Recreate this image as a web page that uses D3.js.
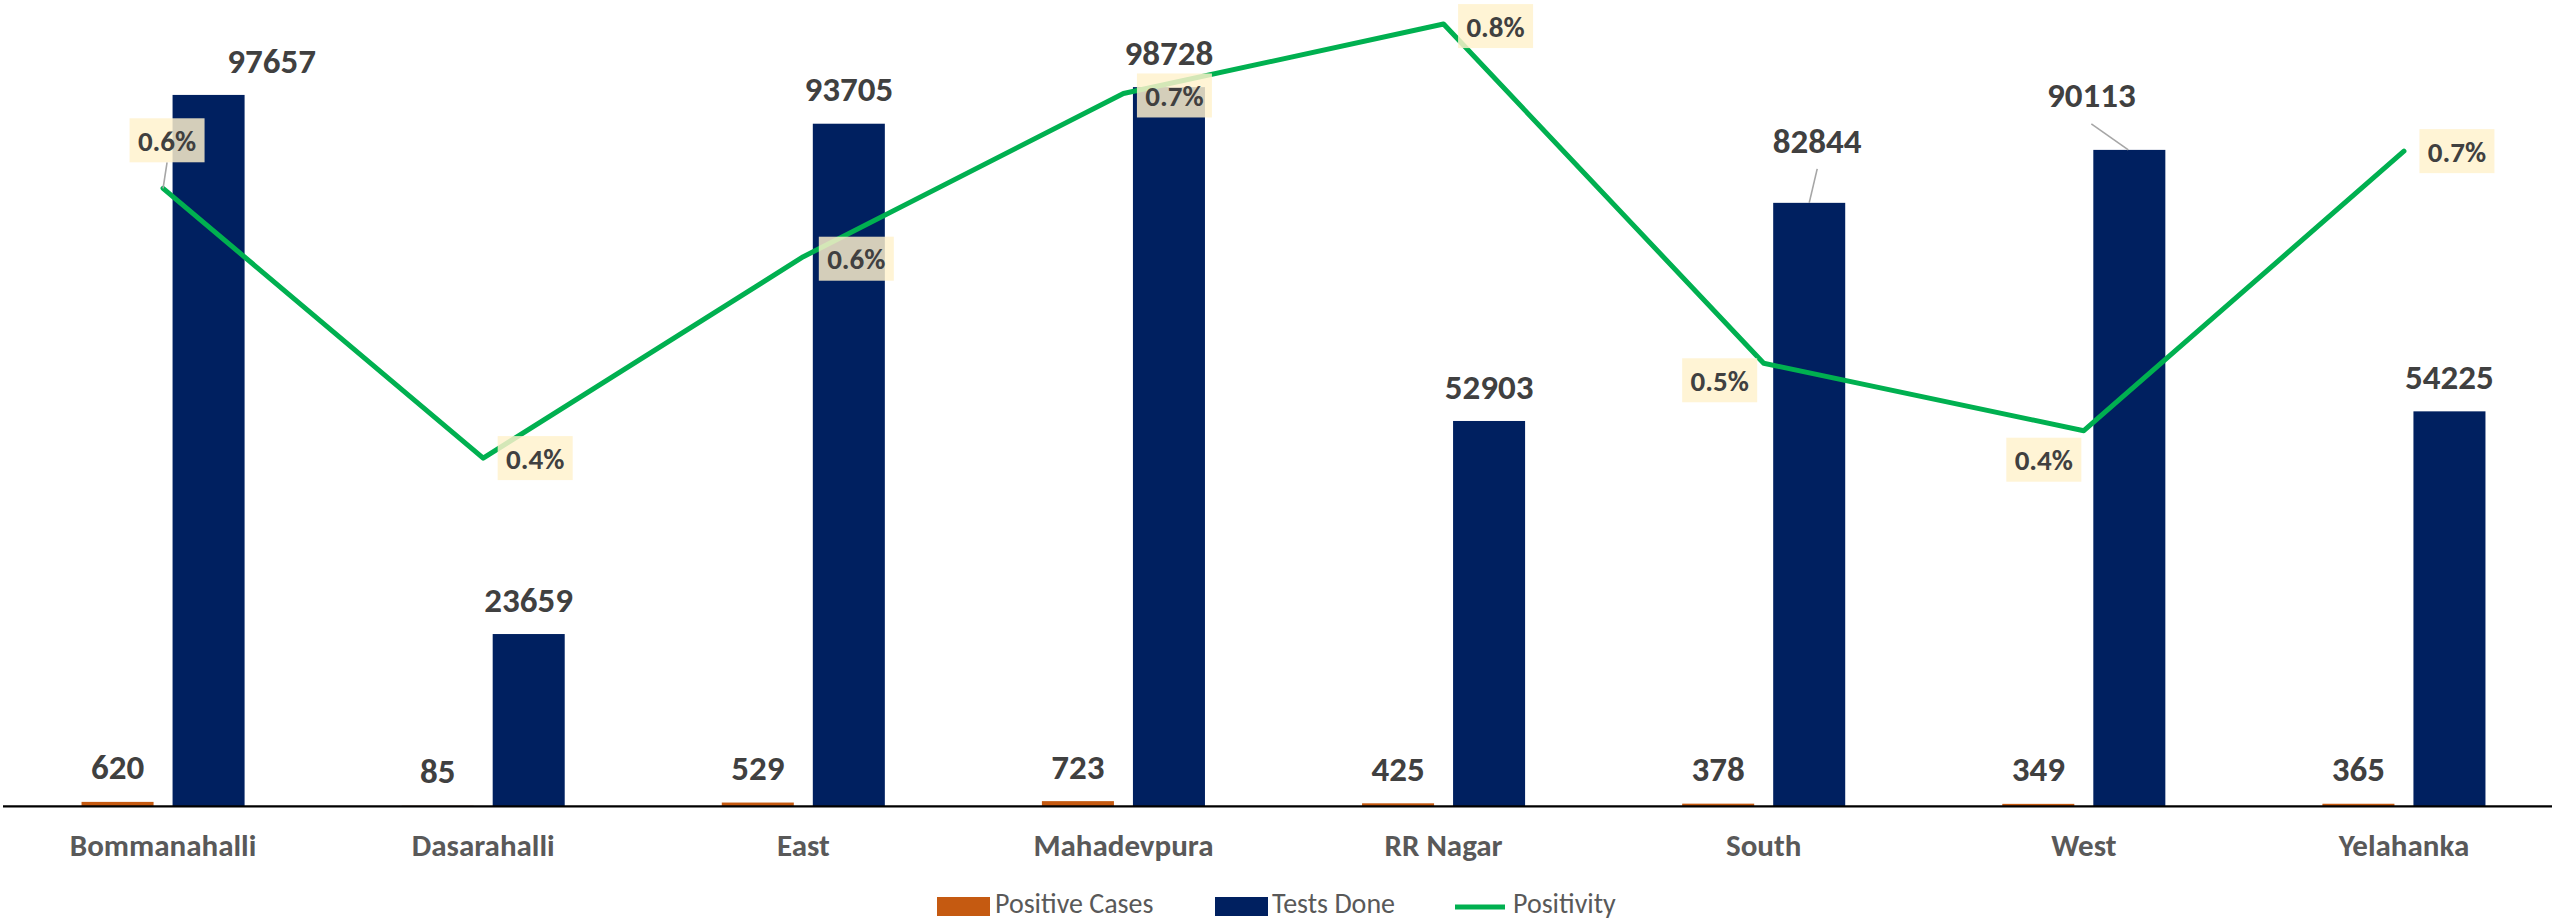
<!DOCTYPE html>
<html>
<head>
<meta charset="utf-8">
<script src="https://cdn.jsdelivr.net/npm/d3@7"></script>
<style>
  html, body { margin: 0; padding: 0; background: #ffffff; }
  svg { display: block; }
</style>
</head>
<body>
<svg id="chart" width="2552" height="921"></svg>
<script>
// ---- data ----
const categories = ["Bommanahalli", "Dasarahalli", "East", "Mahadevpura", "RR Nagar", "South", "West", "Yelahanka"];
const positiveCases = [620, 85, 529, 723, 425, 378, 349, 365];
const testsDone = [97657, 23659, 93705, 98728, 52903, 82844, 90113, 54225];
const positivity = [0.00635, 0.00359, 0.00565, 0.00732, 0.00803, 0.00456, 0.00387, 0.00673];
const seriesNames = ["Positive Cases", "Tests Done", "Positivity"];

// ---- layout / style (not data) ----
const W = 2552, H = 921;
const plotLeft = 3, plotRight = 2564, baseY = 806.4;
const colors = { pos: "#C55A11", tests: "#002060", line: "#00B050" };
const valueFont = "Carlito, Lato, sans-serif";

// manual label nudges (px) for tests labels and percent labels
const testsLabelShift = [[63, 0], [0, 0], [0, 0], [0, 0], [0, 0], [8, -27], [-38, -20], [0, 0]];
const pctLabelShift = [[4, -48], [52, 0], [53, 2], [51, 2], [52, 2], [-44, 17], [-40, 29], [53, 0]];

const svg = d3.select("#chart");
svg.append("rect").attr("width", W).attr("height", H).attr("fill", "#ffffff");

const x = d3.scaleBand().domain(categories).range([plotLeft, plotRight]).paddingInner(0).paddingOuter(0);
const y = d3.scaleLinear().domain([0, 110000]).range([baseY, 5]);
const y2 = d3.scaleLinear().domain([0, 0.008]).range([809, 27]);

const barW = x.bandwidth() * 0.225;
const gap = 19;
const cx = c => x(c) + x.bandwidth() / 2;

// bars
const g = svg.append("g");
g.selectAll(".pos").data(categories).join("rect")
  .attr("x", c => cx(c) - gap / 2 - barW)
  .attr("width", barW)
  .attr("y", (c, i) => y(positiveCases[i]))
  .attr("height", (c, i) => baseY - y(positiveCases[i]))
  .attr("fill", colors.pos);
g.selectAll(".tests").data(categories).join("rect")
  .attr("x", c => cx(c) + gap / 2)
  .attr("width", barW)
  .attr("y", (c, i) => y(testsDone[i]))
  .attr("height", (c, i) => baseY - y(testsDone[i]))
  .attr("fill", colors.tests);

// x axis
const xAxis = d3.axisBottom(x).tickSize(0).tickPadding(0);
const ax = svg.append("g").attr("transform", `translate(0,${baseY})`).call(xAxis);
ax.select(".domain").attr("stroke", "#000").attr("stroke-width", 2.3).attr("d", `M${plotLeft},0H${W}`);
ax.selectAll(".tick text")
  .attr("y", 50)
  .attr("dy", 0)
  .attr("fill", "#595959")
  .style("font-family", valueFont)
  .style("font-weight", "700")
  .style("font-size", "31px");

// value labels: positive cases
svg.append("g").selectAll("text").data(categories).join("text")
  .attr("x", c => cx(c) - gap / 2 - barW / 2)
  .attr("y", (c, i) => y(positiveCases[i]) - 35)
  .attr("dy", "0.36em")
  .attr("text-anchor", "middle")
  .attr("fill", "#404040")
  .style("font-family", valueFont).style("font-weight", "700").style("font-size", "35px")
  .text((c, i) => positiveCases[i]);

// leaders for tests labels
const testsLeaders = [5, 6];
svg.append("g").selectAll("line").data(testsLeaders).join("line")
  .attr("x1", i => i === 5 ? cx(categories[i]) + gap / 2 + barW / 2 + 8 : cx(categories[i]) + gap / 2 + barW / 2 - 38)
  .attr("y1", i => i === 5 ? y(testsDone[i]) - 34 : y(testsDone[i]) - 26)
  .attr("x2", i => cx(categories[i]) + gap / 2 + barW / 2 - (i === 6 ? 1 : 0))
  .attr("y2", i => y(testsDone[i]))
  .attr("stroke", "#A6A6A6").attr("stroke-width", 1.6);

// value labels: tests
svg.append("g").selectAll("text").data(categories).join("text")
  .attr("x", (c, i) => cx(c) + gap / 2 + barW / 2 + testsLabelShift[i][0])
  .attr("y", (c, i) => y(testsDone[i]) - 35 + testsLabelShift[i][1])
  .attr("dy", "0.36em")
  .attr("text-anchor", "middle")
  .attr("fill", "#404040")
  .style("font-family", valueFont).style("font-weight", "700").style("font-size", "35px")
  .text((c, i) => testsDone[i]);

// positivity line
const line = d3.line().x(d => cx(d.c)).y(d => y2(d.v));
const pts = categories.map((c, i) => ({ c, v: positivity[i] }));
svg.append("path").datum(pts)
  .attr("d", line)
  .attr("fill", "none")
  .attr("stroke", colors.line)
  .attr("stroke-width", 5)
  .attr("stroke-linejoin", "round")
  .attr("stroke-linecap", "round");

// leader for first pct label
svg.append("line")
  .attr("x1", cx(categories[0]) + 4).attr("y1", y2(positivity[0]) - 26)
  .attr("x2", cx(categories[0])).attr("y2", y2(positivity[0]))
  .attr("stroke", "#A6A6A6").attr("stroke-width", 1.6);

// percent labels
const fmt = d3.format(".1%");
const boxW = 75, boxH = 44;
const pl = svg.append("g").selectAll("g").data(pts).join("g")
  .attr("transform", (d, i) => `translate(${cx(d.c) + pctLabelShift[i][0]},${y2(d.v) + pctLabelShift[i][1]})`);
pl.append("rect")
  .attr("x", -boxW / 2).attr("y", -boxH / 2).attr("width", boxW).attr("height", boxH)
  .attr("fill", "#FFF2CC").attr("fill-opacity", 0.83);
pl.append("text")
  .attr("text-anchor", "middle").attr("dy", "0.36em")
  .attr("fill", "#404040")
  .style("font-family", valueFont).style("font-weight", "700").style("font-size", "29px")
  .text(d => fmt(d.v));

// legend
const legend = svg.append("g").style("font-family", valueFont).style("font-size", "28px").attr("fill", "#595959");
const legendItems = [
  { name: seriesNames[0], type: "rect", color: colors.pos, x: 937, tx: 995 },
  { name: seriesNames[1], type: "rect", color: colors.tests, x: 1215, tx: 1272 },
  { name: seriesNames[2], type: "line", color: colors.line, x: 1455, tx: 1513 }
];
legendItems.forEach(it => {
  if (it.type === "rect") {
    legend.append("rect").attr("x", it.x).attr("y", 897).attr("width", 53).attr("height", 19).attr("fill", it.color);
  } else {
    legend.append("line").attr("x1", it.x).attr("x2", it.x + 50).attr("y1", 907).attr("y2", 907)
      .attr("stroke", it.color).attr("stroke-width", 5);
  }
  legend.append("text").attr("x", it.tx).attr("y", 913).text(it.name);
});
</script>
</body>
</html>
